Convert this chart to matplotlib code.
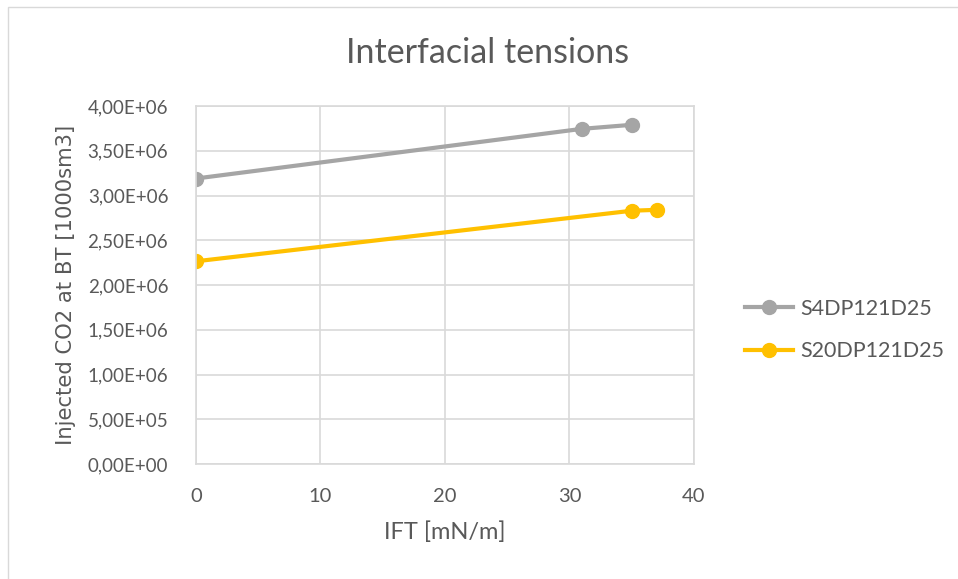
import matplotlib
matplotlib.use("Agg")
import matplotlib.pyplot as plt
from matplotlib.ticker import FuncFormatter, MultipleLocator
from matplotlib.patches import Rectangle

# data: IFT [mN/m] vs injected CO2 at breakthrough
ift_s4 = [0, 31, 35]
co2_s4 = [3.19e6, 3.745e6, 3.79e6]
ift_s20 = [0, 35, 37]
co2_s20 = [2.265e6, 2.83e6, 2.84e6]
names = ["S4DP121D25", "S20DP121D25"]
colors = ["#A5A5A5", "#FFC000"]

txt = "#595959"
plt.rcParams["font.family"] = ["Lato", "DejaVu Sans"]

fig = plt.figure(figsize=(9.58, 5.79), dpi=100)
# chart area frame
fig.patches.append(Rectangle((0.0085, -0.05), 1.2, 0.05 + 0.988, transform=fig.transFigure,
                             fill=False, edgecolor="#D9D9D9", lw=1))
ax = fig.add_axes([0.2046, 0.1986, 0.5198, 0.6183])

ax.plot(ift_s4, co2_s4, "-o", color=colors[0], lw=3, ms=10, label=names[0])
ax.plot(ift_s20, co2_s20, "-o", color=colors[1], lw=3, ms=10, label=names[1])

ax.set_xlim(0, 40)
ax.set_ylim(0, 4e6)
ax.xaxis.set_major_locator(MultipleLocator(10))
ax.yaxis.set_major_locator(MultipleLocator(5e5))

def sci_comma(v, pos):
    s = "%.2E" % v
    return s.replace(".", ",")

ax.yaxis.set_major_formatter(FuncFormatter(sci_comma))
ax.grid(True, color="#D9D9D9", lw=1.2)
ax.set_axisbelow(True)
for sp in ax.spines.values():
    sp.set_color("#D9D9D9")
    sp.set_linewidth(1.2)
ax.tick_params(length=0, colors=txt, labelsize=13.5)
ax.tick_params(axis="y", pad=20)
ax.tick_params(axis="x", pad=17, labelsize=14.5)

# title sits over the whole chart area, not just the plot
ax.set_title("Interfacial tensions", color=txt, fontsize=24.5, pad=31, x=0.586)
ax.set_xlabel("IFT [mN/m]", color=txt, fontsize=17, labelpad=12)
ax.set_ylabel("Injected CO2 at BT [1000sm3]", color=txt, fontsize=15.2,
              family="DejaVu Sans", labelpad=8)

leg = ax.legend(loc="center left", bbox_to_anchor=(1.102, 0.374), frameon=False,
                fontsize=15.5, labelcolor=txt, handlelength=2.23, handletextpad=0.33,
                labelspacing=1.05, borderaxespad=0, borderpad=0)

fig.savefig("out.png", dpi=100)
